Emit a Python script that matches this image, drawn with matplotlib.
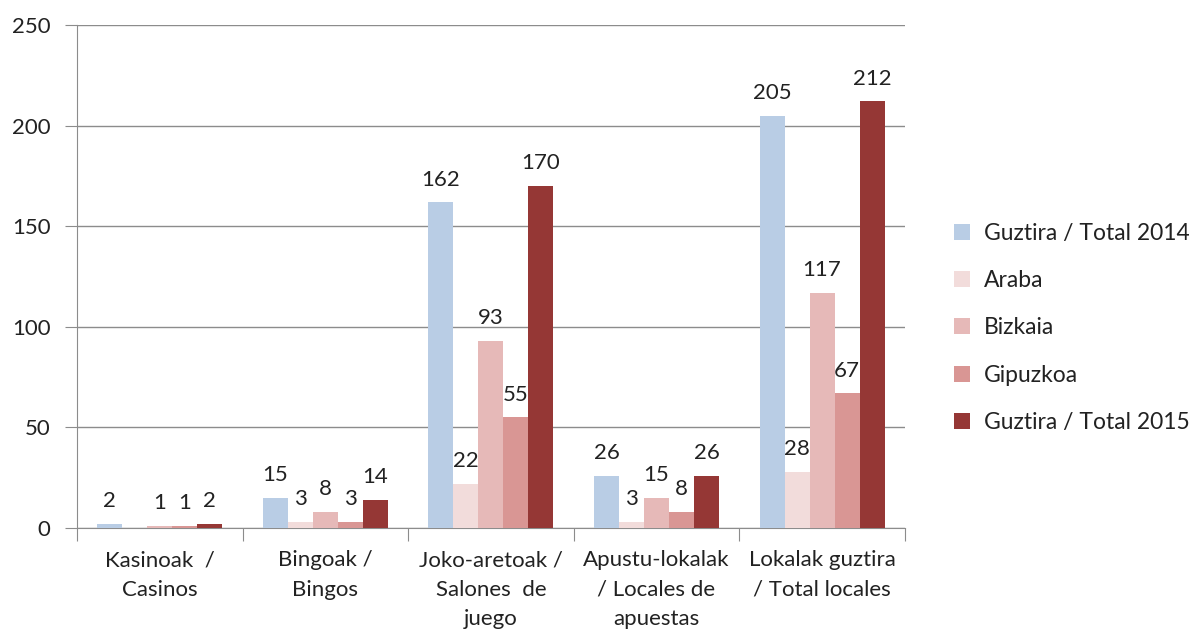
import numpy as np
import matplotlib.pyplot as plt

plt.rcParams['font.family'] = ['Lato', 'DejaVu Sans']

#%% datos
categorias = ["Kasinoak  /\nCasinos", "Bingoak /\nBingos", "Joko-aretoak /\nSalones  de\njuego",
              "Apustu-lokalak\n/ Locales de\napuestas", "Lokalak guztira\n/ Total locales"]
series = ["Guztira / Total 2014", "Araba", "Bizkaia", "Gipuzkoa", "Guztira / Total 2015"]
total_2014 = [2, 15, 162, 26, 205]
araba = [0, 3, 22, 3, 28]
bizkaia = [1, 8, 93, 15, 117]
gipuzkoa = [1, 3, 55, 8, 67]
total_2015 = [2, 14, 170, 26, 212]
colores = ["#B9CDE5", "#F2DCDB", "#E6B9B8", "#D99694", "#953735"]

valores = [total_2014, araba, bizkaia, gipuzkoa, total_2015]

#%% grafico
fig = plt.figure(figsize=(11.89, 6.39), dpi=100)
ax = fig.add_axes([0.0648, 0.1737, 0.6962, 0.7872])

x = np.arange(len(categorias))
w = 0.151
for i, (vals, nombre, c) in enumerate(zip(valores, series, colores)):
    pos = x + (i - 2) * w
    ax.bar(pos, vals, width=w, color=c, label=nombre, zorder=3)
    for p, v in zip(pos, vals):
        if v == 0:
            continue
        ax.annotate(str(v), (p, v), xytext=(0, 9), textcoords='offset points',
                    ha='center', va='bottom', fontsize=16, color='#222222', zorder=4)

ax.set_ylim(0, 250)
ax.set_xlim(-0.5, len(categorias) - 0.5)
ax.set_yticks(np.arange(0, 251, 50))
ax.yaxis.grid(True, color='#8c8c8c', linewidth=1, zorder=0)

ax.set_xticks(np.arange(-0.5, len(categorias), 1))
ax.set_xticklabels([])
ax.set_xticks(x, minor=True)
ax.set_xticklabels(categorias, minor=True, fontsize=16, linespacing=1.6, color='#222222')
ax.tick_params(axis='x', which='minor', length=0, pad=16)
ax.tick_params(axis='x', which='major', length=9, color='#8c8c8c', direction='out')
ax.tick_params(axis='y', length=9, color='#8c8c8c', labelsize=16, labelcolor='#222222', pad=10)

for s in ['top', 'right']:
    ax.spines[s].set_visible(False)
for s in ['left', 'bottom']:
    ax.spines[s].set_color('#8c8c8c')

fig.legend(loc='center left', bbox_to_anchor=(0.785, 0.487), frameon=False, fontsize=16.5,
           labelspacing=1.15, handlelength=0.7, handleheight=0.7, handletextpad=0.6,
           labelcolor='#222222')

plt.savefig('out.png', dpi=100)
